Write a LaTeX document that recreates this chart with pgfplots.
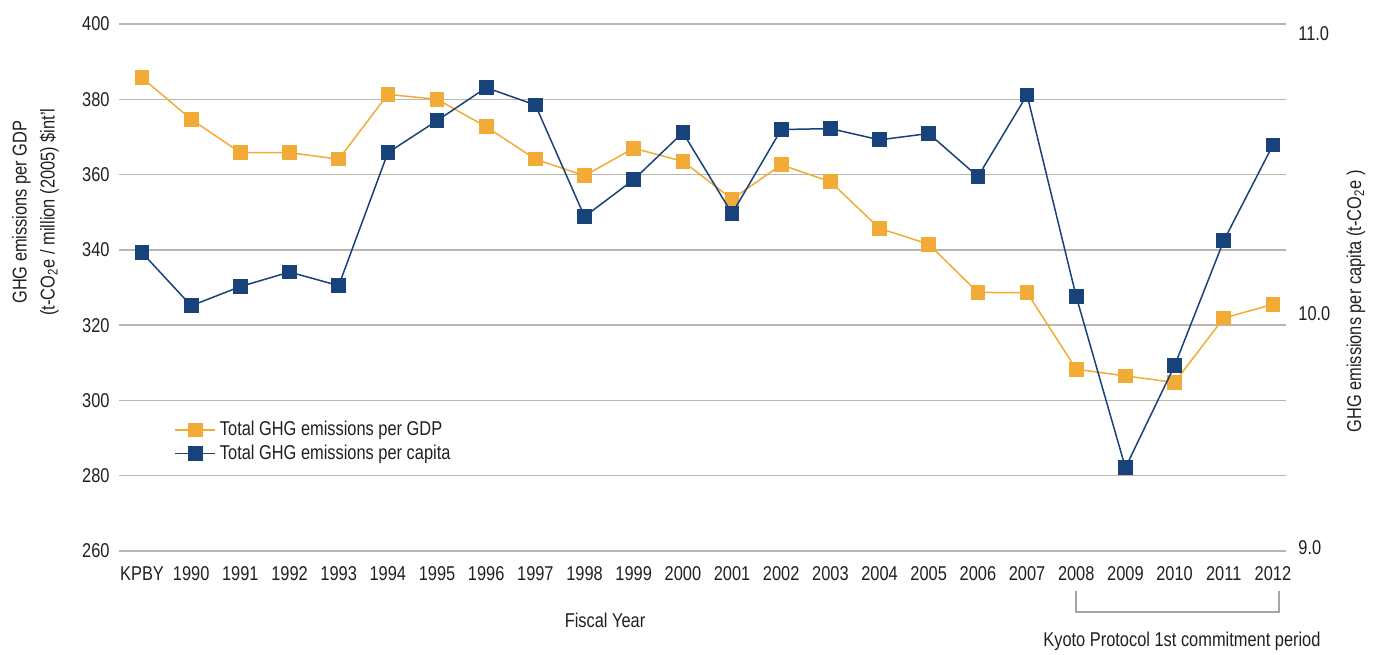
\documentclass[border=0pt]{standalone}
\usepackage{fontspec}
\setmainfont{Liberation Sans}[FakeStretch=0.82]
\usepackage{pgfplots}
\usepackage{pgfplotstable}
\pgfplotsset{compat=1.18}
\definecolor{gdporange}{RGB}{241,171,54}
\definecolor{capblue}{RGB}{24,66,122}
\definecolor{gridgrey}{RGB}{184,182,173}
\definecolor{brgrey}{RGB}{165,165,165}
\definecolor{txt}{RGB}{35,31,32}

\pgfplotstableread{
x gdp
0 385.7
1 374.7
2 365.8
3 365.8
4 364.1
5 381.3
6 380.0
7 372.7
8 364.1
9 359.7
10 367.0
11 363.5
12 353.5
13 362.6
14 358.1
15 345.7
16 341.5
17 328.7
18 328.6
19 308.3
20 306.5
21 304.8
22 321.9
23 325.5
}\gdpdata

\pgfplotstableread{
x cap
0 10.262
1 10.035
2 10.117
3 10.179
4 10.121
5 10.689
6 10.826
7 10.967
8 10.893
9 10.416
10 10.574
11 10.775
12 10.429
13 10.788
14 10.792
15 10.744
16 10.771
17 10.587
18 10.936
19 10.074
20 9.343
21 9.779
22 10.313
23 10.722
}\capdata

\begin{document}
\begin{tikzpicture}[font=\fontsize{10}{12}\selectfont, text=txt]
\path[use as bounding box] (-59.5pt,-51.5pt) rectangle (631pt,275.5pt);
\begin{axis}[
  at={(0,0)}, anchor=south west, scale only axis,
  width=583.5pt, height=263.5pt,
  xmin=-0.468, xmax=23.266, ymin=260, ymax=400,
  ytick={260,280,...,400},
  xtick={0,...,23},
  xticklabels={KPBY,1990,1991,1992,1993,1994,1995,1996,1997,1998,1999,2000,2001,2002,2003,2004,2005,2006,2007,2008,2009,2010,2011,2012},
  ymajorgrids, grid style={gridgrey, line width=0.7pt},
  axis line style={draw=none}, major tick length=0pt,
  tick label style={font=\fontsize{10}{12}\selectfont, text=txt},
  /pgf/number format/assume math mode=true,
  yticklabel style={inner sep=0pt, xshift=-4.5pt},
  xticklabel style={inner sep=0pt, yshift=-7.5pt},
  xlabel={Fiscal Year},
  xlabel style={at={(axis description cs:0.4165,-0.131)}, anchor=center, font=\fontsize{10}{12}\selectfont},
  ylabel={GHG emissions per GDP\\(t-CO\textsubscript{2}e / million (2005) \$int’l},
  ylabel style={at={(axis description cs:-0.0715,0.643)}, anchor=center, align=center, font=\fontsize{10}{14}\selectfont},
  clip=false,
]
\addplot[gdporange, line width=0.75pt, mark=square*, mark size=3.3pt] table[x=x, y=gdp] {\gdpdata};
\draw[brgrey, line width=0.8pt] (axis cs:19,249.4) -- (axis cs:19,243.8) -- (axis cs:23.12,243.8) -- (axis cs:23.12,249.4);
\node[anchor=center, font=\fontsize{10}{12}\selectfont] at (axis cs:21.15,236.0) {Kyoto Protocol 1st commitment period};
\end{axis}
\begin{axis}[
  at={(0,0)}, anchor=south west, scale only axis,
  width=583.5pt, height=263.5pt,
  xmin=-0.468, xmax=23.266, ymin=8.987, ymax=11.239,
  axis y line*=right, axis x line=none,
  ytick={9,10,11.2}, yticklabels={9.0,10.0,11.0},
  axis line style={draw=none}, major tick length=0pt,
  tick label style={font=\fontsize{10}{12}\selectfont, text=txt},
  yticklabel style={inner sep=0pt, xshift=6pt},
  ylabel={GHG emissions per capita (t-CO\textsubscript{2}e )},
  ylabel style={at={(axis description cs:1.060,0.474)}, anchor=center, font=\fontsize{10}{12}\selectfont},
  clip=false,
  legend style={draw=none, fill=none, at={(axis description cs:0.042,0.262)}, anchor=north west, font=\fontsize{10}{13}\selectfont, row sep=-1pt},
  legend cell align=left,
  legend image code/.code={\draw[mark repeat=2,mark phase=2,#1] plot coordinates {(0pt,0pt) (10pt,0pt) (20pt,0pt)};},
]
\addlegendimage{gdporange, line width=0.75pt, mark=square*, mark size=3.3pt}
\addlegendentry{Total GHG emissions per GDP}
\addplot[capblue, line width=0.75pt, mark=square*, mark size=3.3pt] table[x=x, y=cap] {\capdata};
\addlegendentry{Total GHG emissions per capita}
\end{axis}
\end{tikzpicture}
\end{document}
